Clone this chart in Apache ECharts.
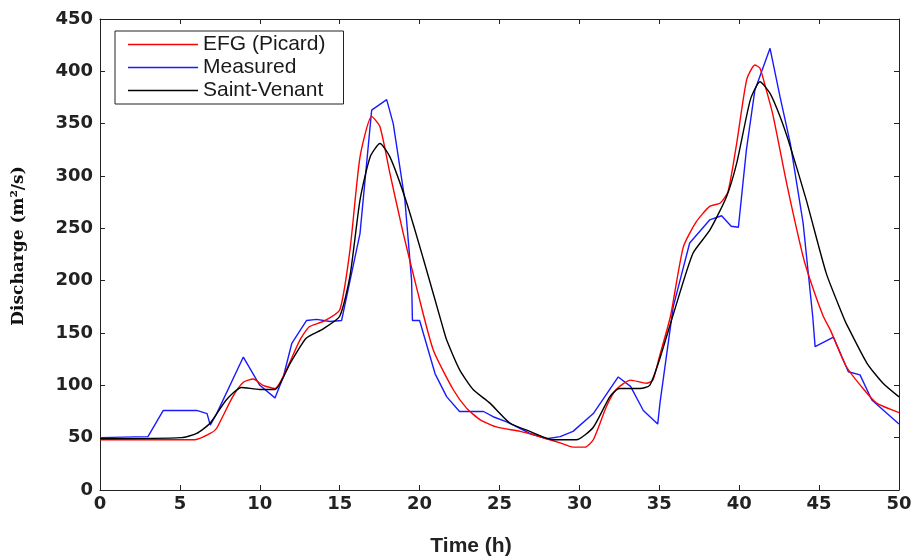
<!DOCTYPE html>
<html>
<head>
<meta charset="utf-8">
<script src="https://cdn.jsdelivr.net/npm/echarts@6/dist/echarts.min.js"></script>
<style>html,body{margin:0;padding:0;background:#fff}#c{width:911px;height:556px}</style>
</head>
<body>
<div id="c"></div>
<script>
const seriesNames = ['EFG (Picard)', 'Measured', 'Saint-Venant'];
const xTicks = [0, 5, 10, 15, 20, 25, 30, 35, 40, 45, 50];
const yTicks = [0, 50, 100, 150, 200, 250, 300, 350, 400, 450];

const efgT = [0, 5.94, 6.9, 7.3, 8.3, 8.97, 9.6, 10.2, 10.95, 11.7, 12.5, 13.1, 13.97, 15.0, 15.64, 16.27, 17.0, 17.52, 18.15, 18.98, 19.8, 20.85, 22.1, 22.95, 23.8, 24.85, 26.3, 27.5, 28.8, 29.6, 30.35, 30.87, 31.7, 32.3, 33.2, 34.2, 34.6, 35.0, 35.7, 36.5, 37.3, 38.15, 38.8, 39.3, 39.84, 40.47, 40.98, 41.3, 41.7, 42.13, 42.97, 44.0, 44.5, 45.26, 45.7, 46.7, 47.8, 48.6, 50];
const efgQ = [48, 48, 54, 59, 89, 103, 106, 100, 97, 116, 143, 156, 161, 172, 229, 318, 357, 347, 302, 245, 194, 134, 96, 78, 67, 60, 56, 51, 45, 41, 41, 48, 80, 96, 105, 102, 105, 127, 166, 232, 256, 271, 274, 285, 331, 392, 406, 403, 382, 357, 293, 223, 198, 166, 153, 118, 96, 83, 74];

const measT = [0, 3.0, 3.96, 6.05, 6.7, 6.9, 7.3, 8.97, 10.0, 10.95, 11.47, 12.0, 12.93, 13.56, 14.4, 15.12, 16.27, 17.0, 17.94, 18.35, 19.08, 19.5, 19.55, 20.0, 20.97, 21.7, 22.5, 24.0, 24.6, 25.45, 26.9, 27.95, 28.8, 29.6, 30.87, 32.43, 33.2, 34.0, 34.9, 35.05, 35.87, 36.9, 38.15, 38.9, 39.5, 39.95, 40.45, 40.98, 41.93, 42.55, 43.2, 44.0, 44.6, 44.75, 45.9, 46.83, 47.56, 48.3, 50];
const measQ = [50, 51, 76, 76, 73, 62, 73, 127, 100, 88, 108, 140, 162, 163, 161, 162, 245, 363, 373, 350, 277, 200, 162, 162, 111, 89, 75, 75, 70, 65, 54, 49, 51, 56, 73, 108, 99, 76, 63, 84, 175, 236, 258, 262, 252, 251, 325, 382, 422, 376, 331, 255, 166, 137, 146, 113, 110, 86, 63];

const svT = [0, 5.1, 6.05, 6.9, 7.9, 8.86, 10.0, 10.95, 11.9, 12.9, 13.97, 15.0, 15.64, 16.27, 16.9, 17.52, 18.15, 19.2, 20.25, 21.5, 21.7, 22.5, 23.35, 24.4, 25.65, 26.9, 28.35, 29.8, 30.87, 31.9, 32.5, 33.8, 34.4, 35.0, 35.9, 37.1, 38.15, 39.2, 39.84, 40.7, 41.3, 41.93, 42.55, 43.2, 44.2, 45.45, 46.5, 46.7, 48.0, 49.0, 50];
const svQ = [49, 50, 54, 64, 86, 98, 96, 96, 121, 145, 154, 166, 204, 277, 318, 331, 318, 274, 220, 153, 143, 115, 96, 83, 64, 56, 48, 48, 60, 89, 97, 97, 100, 124, 169, 226, 248, 280, 312, 373, 390, 379, 357, 328, 277, 207, 166, 159, 121, 102, 89];

function pairs(t, q) { return t.map((v, i) => [v, q[i]]); }

const chart = echarts.init(document.getElementById('c'), null, {renderer: 'canvas'});
const axisLine = {show: true, onZero: false, lineStyle: {color: '#222', width: 1}};
const tick = {show: true, inside: true, length: 5, lineStyle: {color: '#222'}};
const labelFont = {fontFamily: 'DejaVu Sans, sans-serif', fontWeight: 'bold', fontSize: 18, color: '#222'};
chart.setOption({
  animation: false,
  backgroundColor: '#fff',
  grid: {left: 100, right: 12, top: 19, bottom: 66, containLabel: false, outerBoundsMode: 'none'},
  legend: {
    orient: 'vertical', left: 115, top: 31,
    data: seriesNames,
    icon: 'rect',
    itemWidth: 70, itemHeight: 1.6, itemGap: 2,
    padding: [3, 18, 3, 13],
    borderColor: '#222', borderWidth: 1, backgroundColor: '#fff', borderRadius: 0,
    textStyle: {fontFamily: 'Liberation Sans, Arial, sans-serif', fontSize: 21, color: '#1a1a1a'}
  },
  xAxis: [
    {type: 'value', min: xTicks[0], max: xTicks[xTicks.length - 1], interval: 5,
     axisLine: axisLine, axisTick: tick, splitLine: {show: false},
     axisLabel: Object.assign({margin: 5}, labelFont),
     name: 'Time (h)', nameLocation: 'middle', nameGap: 46,
     nameTextStyle: {fontFamily: 'Liberation Sans, Arial, sans-serif', fontWeight: 'bold', fontSize: 21, color: '#222', padding: [0, 57, 0, 0]}},
    {type: 'value', position: 'top', min: 0, max: 50, interval: 5,
     axisLine: axisLine, axisTick: tick, axisLabel: {show: false}, splitLine: {show: false}}
  ],
  yAxis: [
    {type: 'value', min: yTicks[0], max: yTicks[yTicks.length - 1], interval: 50,
     axisLine: axisLine, axisTick: tick, splitLine: {show: false},
     axisLabel: Object.assign({margin: 7}, labelFont),
     name: 'Discharge (m²/s)', nameLocation: 'middle', nameGap: 73, nameRotate: 90,
     nameTextStyle: {fontFamily: 'DejaVu Serif, serif', fontWeight: 'bold', fontSize: 17, color: '#111', padding: [0, 0, 0, 17]}},
    {type: 'value', position: 'right', min: 0, max: 450, interval: 50,
     axisLine: axisLine, axisTick: tick, axisLabel: {show: false}, splitLine: {show: false}}
  ],
  series: [
    {name: seriesNames[0], type: 'line', data: pairs(efgT, efgQ), symbol: 'none', smooth: 0.2,
     lineStyle: {color: '#ff0000', width: 1.4}, itemStyle: {color: '#ff0000'}, z: 3},
    {name: seriesNames[1], type: 'line', data: pairs(measT, measQ), symbol: 'none',
     lineStyle: {color: '#1a1aff', width: 1.4}, itemStyle: {color: '#1a1aff'}, z: 2},
    {name: seriesNames[2], type: 'line', data: pairs(svT, svQ), symbol: 'none', smooth: 0.2,
     lineStyle: {color: '#000', width: 1.4}, itemStyle: {color: '#000'}, z: 4}
  ]
});
</script>
</body>
</html>
